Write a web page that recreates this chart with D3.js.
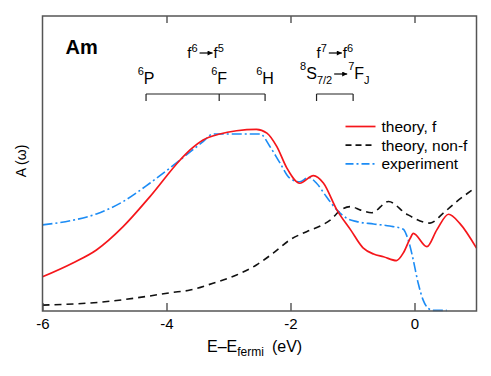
<!DOCTYPE html>
<html>
<head>
<meta charset="utf-8">
<script src="https://cdn.jsdelivr.net/npm/d3@7"></script>
<style>
  body { margin: 0; background: #fff; }
  svg { display: block; }
</style>
</head>
<body>
<svg id="chart"></svg>
<script>
// Svg element dimensions
const width = 491;
const height = 376;

// Spectra, [E - E_fermi (eV), A(w) in arbitrary units]
const theoryF = [
  [-6.0, 11.6], [-5.51, 16.3], [-5.13, 20.7], [-4.7, 28.6], [-4.27, 38.7],
  [-3.78, 51.2], [-3.62, 54.6], [-3.41, 58.0], [-3.14, 60.0], [-2.87, 61.1],
  [-2.55, 61.6], [-2.38, 60.3], [-2.22, 55.7], [-2.06, 48.5], [-1.85, 43.3],
  [-1.63, 45.9], [-1.47, 43.4], [-1.25, 34.2], [-1.03, 27.5], [-0.83, 21.4],
  [-0.66, 19.3], [-0.5, 18.4], [-0.29, 17.1], [-0.18, 19.7], [-0.07, 24.6],
  [-0.02, 26.3], [0.2, 21.8], [0.36, 27.5], [0.55, 32.8], [0.73, 29.7],
  [1.0, 21.3]
];

const theoryNonF = [
  [-6.0, 2.0], [-4.96, 3.2], [-4.27, 5.1], [-3.94, 6.2], [-3.62, 7.1],
  [-3.25, 9.4], [-2.87, 12.2], [-2.55, 15.6], [-2.28, 19.6], [-2.01, 24.1],
  [-1.74, 26.9], [-1.52, 28.8], [-1.36, 30.8], [-1.19, 34.2], [-1.03, 35.4],
  [-0.87, 34.2], [-0.69, 33.3], [-0.42, 37.1], [-0.13, 32.9], [0.25, 29.8],
  [0.46, 33.1], [0.68, 37.1], [0.93, 41.0]
];

const experiment = [
  [-6.0, 29.2], [-5.5, 30.8], [-5.13, 32.9], [-4.7, 37.1], [-4.27, 43.3],
  [-3.78, 51.2], [-3.41, 57.4], [-3.25, 60.0], [-2.49, 60.0], [-2.33, 55.7],
  [-2.17, 50.2], [-2.01, 45.0], [-1.85, 43.8], [-1.71, 45.3], [-1.58, 43.3],
  [-1.42, 38.7], [-1.25, 34.2], [-1.09, 31.4], [-0.93, 30.3], [-0.66, 29.5],
  [-0.4, 28.8], [-0.18, 27.7], [-0.13, 25.8], [-0.07, 21.8], [-0.02, 17.3],
  [0.06, 9.4], [0.14, 3.7], [0.22, 0.9], [0.3, 0.2], [0.52, 0.2]
];

// Axis ticks
const xTicks = [-6, -4, -2, 0];
const topTicks = [-4, -2, 0];

// Multiplet markers (eV)
const f6Levels = [-4.33, -3.15, -2.41];
const f6Names = ["P", "F", "H"];
const f7Levels = [-1.58, -0.99];

// Legend
const legendNames = ["theory, f", "theory, non-f", "experiment"];

const font = "Liberation Sans, Arial, Helvetica, sans-serif";

const svg = d3.select("#chart")
  .attr("width", width)
  .attr("height", height)
  .attr("font-family", font);

const margin = { top: 16, right: 14.5, bottom: 65, left: 42.5 };
const innerWidth = width - margin.left - margin.right;
const innerHeight = height - margin.top - margin.bottom;

const g = svg.append("g")
  .attr("transform", `translate(${margin.left}, ${margin.top})`);

// Scales
const xScale = d3.scaleLinear().domain([-6, 1]).range([0, innerWidth]);
const yScale = d3.scaleLinear().domain([0, 100]).range([innerHeight, 0]);

// Curves
const line = d3.line()
  .x(d => xScale(d[0]))
  .y(d => yScale(d[1]))
  .curve(d3.curveMonotoneX);

const series = [
  { data: theoryNonF, color: "#111", dash: "7,5", width: 1.6 },
  { data: experiment, color: "#1c8cf5", dash: "10,3,2,3", width: 1.6 },
  { data: theoryF, color: "#f5161b", dash: null, width: 1.7 }
];

g.selectAll("path.curve")
  .data(series)
  .enter()
  .append("path")
  .attr("class", "curve")
  .attr("d", d => line(d.data))
  .attr("fill", "none")
  .attr("stroke", d => d.color)
  .attr("stroke-width", d => d.width)
  .attr("stroke-dasharray", d => d.dash);

// Axes
const xAxis = d3.axisBottom(xScale)
  .tickValues(xTicks)
  .tickFormat(d => String(d))
  .tickSizeInner(-8)
  .tickSizeOuter(0)
  .tickPadding(7);

const xAxisG = g.append("g")
  .attr("transform", `translate(0, ${innerHeight})`)
  .call(xAxis)
  .attr("font-size", 15)
  .attr("font-family", font);
xAxisG.select(".domain").remove();
xAxisG.selectAll(".tick line").attr("stroke", "#333").attr("stroke-width", 1.2);
xAxisG.selectAll(".tick text").attr("fill", "#000");

const topAxisG = g.append("g")
  .call(d3.axisTop(xScale).tickValues(topTicks).tickFormat("").tickSizeInner(-7).tickSizeOuter(0));
topAxisG.select(".domain").remove();
topAxisG.selectAll(".tick line").attr("stroke", "#333").attr("stroke-width", 1.2);

// Frame
g.append("rect")
  .attr("width", innerWidth)
  .attr("height", innerHeight)
  .attr("fill", "none")
  .attr("stroke", "#555")
  .attr("stroke-width", 1.5);

// Axis labels
const xLabel = svg.append("text")
  .attr("x", 207)
  .attr("y", 352)
  .attr("font-size", 16);
xLabel.append("tspan").text("E\u2013E");
xLabel.append("tspan").attr("dy", 4).attr("font-size", 12).text("fermi");
xLabel.append("tspan").attr("dy", -4).attr("dx", 8).text("(eV)");

svg.append("text")
  .attr("transform", "translate(26, 161) rotate(-90)")
  .attr("text-anchor", "middle")
  .attr("font-size", 14)
  .text("A (\u03c9)");

// Element title
g.append("text")
  .attr("x", 23)
  .attr("y", 38)
  .attr("font-size", 20)
  .attr("font-weight", "bold")
  .text("Am");

// Arrow head
svg.append("defs").append("marker")
  .attr("id", "head")
  .attr("viewBox", "0 0 10 10")
  .attr("refX", 10).attr("refY", 5)
  .attr("markerWidth", 6).attr("markerHeight", 5)
  .attr("markerUnits", "userSpaceOnUse")
  .attr("orient", "auto")
  .append("path").attr("d", "M0,0L10,5L0,10z").attr("fill", "#000");

// One text element with tspans, arrows drawn in the gaps, centered on cx
const richLabel = (cx, y, pieces) => {
  const t = g.append("text").attr("y", y).attr("font-size", 15);
  let cur = 0;
  let pending = 0;
  let x = 0;
  const arrows = [];
  pieces.forEach(p => {
    if (p.arrow) {
      arrows.push({ x: x + pending, w: p.arrow, dy: p.dy });
      pending += p.arrow;
      return;
    }
    const target = p.dy || 0;
    const s = t.append("tspan")
      .attr("dy", target - cur)
      .attr("dx", pending)
      .attr("font-size", p.size)
      .text(p.t);
    x += pending + s.node().getComputedTextLength();
    pending = p.gap || 0;
    cur = target;
  });
  const x0 = cx - x / 2;
  t.attr("x", x0);
  arrows.forEach(a => {
    g.append("line")
      .attr("x1", x0 + a.x + 1).attr("x2", x0 + a.x + a.w - 1)
      .attr("y1", y + a.dy).attr("y2", y + a.dy)
      .attr("stroke", "#000").attr("stroke-width", 1.2)
      .attr("marker-end", "url(#head)");
  });
};

// Bracket with down ticks
const bracket = (levels) => {
  const y0 = 94 - margin.top;
  g.append("line")
    .attr("x1", xScale(levels[0])).attr("x2", xScale(levels[levels.length - 1]))
    .attr("y1", y0).attr("y2", y0)
    .attr("stroke", "#222").attr("stroke-width", 1.2);
  g.selectAll(null)
    .data(levels)
    .enter()
    .append("line")
    .attr("x1", d => xScale(d)).attr("x2", d => xScale(d))
    .attr("y1", y0).attr("y2", y0 + 7)
    .attr("stroke", "#222").attr("stroke-width", 1.2);
};

bracket(f6Levels);
bracket(f7Levels);

const yTrans = 58 - margin.top;
const yTerm = 84 - margin.top;

richLabel((xScale(f6Levels[0]) + xScale(f6Levels[2])) / 2, yTrans, [
  { t: "f", size: 15 }, { t: "6", size: 11, dy: -6, gap: 1 },
  { arrow: 15, dy: -5 }, { t: "f", size: 15 }, { t: "5", size: 11, dy: -6 }
]);

f6Levels.forEach((e, i) => {
  richLabel(xScale(e), yTerm, [
    { t: "6", size: 11, dy: -9 }, { t: f6Names[i], size: 16 }
  ]);
});

richLabel((xScale(f7Levels[0]) + xScale(f7Levels[1])) / 2, yTrans, [
  { t: "f", size: 15 }, { t: "7", size: 11, dy: -6, gap: 1 },
  { arrow: 15, dy: -5 }, { t: "f", size: 15 }, { t: "6", size: 11, dy: -6 }
]);

richLabel((xScale(f7Levels[0]) + xScale(f7Levels[1])) / 2, yTerm - 5, [
  { t: "8", size: 11, dy: -9 }, { t: "S", size: 16 }, { t: "7/2", size: 11, dy: 5, gap: 1 },
  { arrow: 15, dy: -5 }, { t: "7", size: 11, dy: -9 }, { t: "F", size: 16 }, { t: "J", size: 11, dy: 5 }
]);

// Legend
const legendG = g.append("g").attr("transform", `translate(${345.5 - margin.left}, ${126.5 - margin.top})`);
const legendRows = legendG.selectAll("g")
  .data(legendNames)
  .enter()
  .append("g")
  .attr("transform", (d, i) => `translate(0, ${i * 18.7})`);

legendRows.append("line")
  .attr("x1", 0).attr("x2", 30)
  .attr("stroke", (d, i) => [series[2], series[0], series[1]][i].color)
  .attr("stroke-width", 1.7)
  .attr("stroke-dasharray", (d, i) => [null, "6,4", "8,3,2,3"][i]);

legendRows.append("text")
  .attr("x", 36)
  .attr("y", 5.5)
  .attr("font-size", 15.5)
  .text(d => d);
</script>
</body>
</html>
